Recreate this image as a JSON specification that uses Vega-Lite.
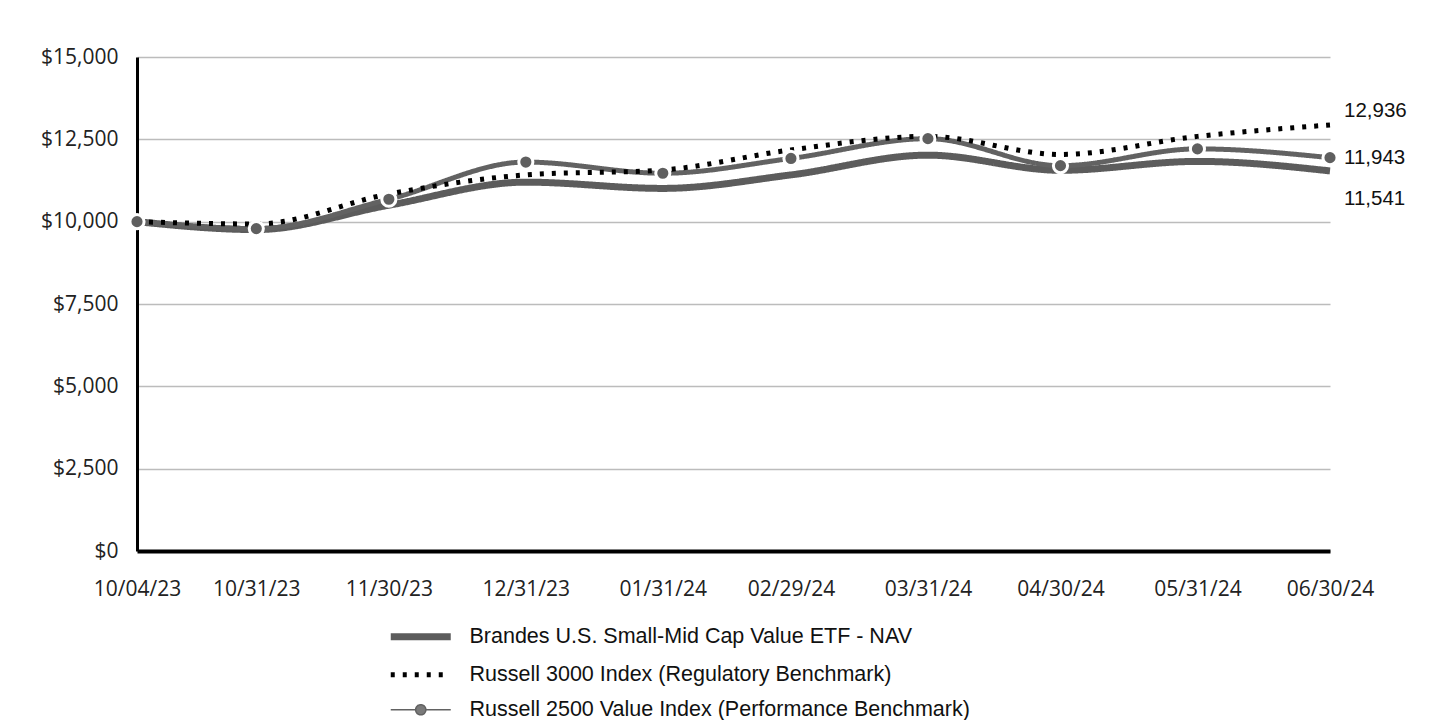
{
  "$schema": "https://vega.github.io/schema/vega-lite/v6.json",
  "width": 1193,
  "height": 494,
  "autosize": {"type": "none"},
  "padding": {"left": 137, "top": 57, "right": 110, "bottom": 169},
  "background": "white",
  "config": {
    "view": {"stroke": null},
    "axis": {"labelColor": "#222", "title": null}
  },
  "data": {
    "values": [
      {"date": "2023-10-04", "series": "Brandes U.S. Small-Mid Cap Value ETF - NAV", "value": 10000},
      {"date": "2023-10-31", "series": "Brandes U.S. Small-Mid Cap Value ETF - NAV", "value": 9760},
      {"date": "2023-11-30", "series": "Brandes U.S. Small-Mid Cap Value ETF - NAV", "value": 10500},
      {"date": "2023-12-31", "series": "Brandes U.S. Small-Mid Cap Value ETF - NAV", "value": 11200},
      {"date": "2024-01-31", "series": "Brandes U.S. Small-Mid Cap Value ETF - NAV", "value": 11010},
      {"date": "2024-02-29", "series": "Brandes U.S. Small-Mid Cap Value ETF - NAV", "value": 11420},
      {"date": "2024-03-31", "series": "Brandes U.S. Small-Mid Cap Value ETF - NAV", "value": 12020},
      {"date": "2024-04-30", "series": "Brandes U.S. Small-Mid Cap Value ETF - NAV", "value": 11560},
      {"date": "2024-05-31", "series": "Brandes U.S. Small-Mid Cap Value ETF - NAV", "value": 11830},
      {"date": "2024-06-30", "series": "Brandes U.S. Small-Mid Cap Value ETF - NAV", "value": 11541},
      {"date": "2023-10-04", "series": "Russell 3000 Index (Regulatory Benchmark)", "value": 10000},
      {"date": "2023-10-31", "series": "Russell 3000 Index (Regulatory Benchmark)", "value": 9930},
      {"date": "2023-11-30", "series": "Russell 3000 Index (Regulatory Benchmark)", "value": 10840},
      {"date": "2023-12-31", "series": "Russell 3000 Index (Regulatory Benchmark)", "value": 11420},
      {"date": "2024-01-31", "series": "Russell 3000 Index (Regulatory Benchmark)", "value": 11570},
      {"date": "2024-02-29", "series": "Russell 3000 Index (Regulatory Benchmark)", "value": 12180},
      {"date": "2024-03-31", "series": "Russell 3000 Index (Regulatory Benchmark)", "value": 12590},
      {"date": "2024-04-30", "series": "Russell 3000 Index (Regulatory Benchmark)", "value": 12040},
      {"date": "2024-05-31", "series": "Russell 3000 Index (Regulatory Benchmark)", "value": 12590},
      {"date": "2024-06-30", "series": "Russell 3000 Index (Regulatory Benchmark)", "value": 12936},
      {"date": "2023-10-04", "series": "Russell 2500 Value Index (Performance Benchmark)", "value": 10000},
      {"date": "2023-10-31", "series": "Russell 2500 Value Index (Performance Benchmark)", "value": 9790},
      {"date": "2023-11-30", "series": "Russell 2500 Value Index (Performance Benchmark)", "value": 10680},
      {"date": "2023-12-31", "series": "Russell 2500 Value Index (Performance Benchmark)", "value": 11810},
      {"date": "2024-01-31", "series": "Russell 2500 Value Index (Performance Benchmark)", "value": 11470},
      {"date": "2024-02-29", "series": "Russell 2500 Value Index (Performance Benchmark)", "value": 11920},
      {"date": "2024-03-31", "series": "Russell 2500 Value Index (Performance Benchmark)", "value": 12520},
      {"date": "2024-04-30", "series": "Russell 2500 Value Index (Performance Benchmark)", "value": 11700},
      {"date": "2024-05-31", "series": "Russell 2500 Value Index (Performance Benchmark)", "value": 12210},
      {"date": "2024-06-30", "series": "Russell 2500 Value Index (Performance Benchmark)", "value": 11943}
    ]
  },
  "encoding": {
    "x": {
      "field": "date", "type": "temporal",
      "scale": {"type": "utc", "domain": [{"year": 2023, "month": 10, "date": 4, "utc": true}, {"year": 2024, "month": 6, "date": 30, "utc": true}], "nice": false},
      "axis": {
        "values": [
          {"year": 2023, "month": 10, "date": 4, "utc": true},
          {"year": 2023, "month": 10, "date": 31, "utc": true},
          {"year": 2023, "month": 11, "date": 30, "utc": true},
          {"year": 2023, "month": 12, "date": 31, "utc": true},
          {"year": 2024, "month": 1, "date": 31, "utc": true},
          {"year": 2024, "month": 2, "date": 29, "utc": true},
          {"year": 2024, "month": 3, "date": 31, "utc": true},
          {"year": 2024, "month": 4, "date": 30, "utc": true},
          {"year": 2024, "month": 5, "date": 31, "utc": true},
          {"year": 2024, "month": 6, "date": 30, "utc": true}
        ],
        "labelExpr": "utcFormat(datum.value, '%m/%d/%y')",
        "grid": false, "ticks": false,
        "domainColor": "#000", "domainWidth": 4,
        "labelFont": "Open Sans", "labelFontSize": 21, "labelPadding": 27,
        "labelOverlap": false, "labelFlush": false
      }
    },
    "y": {
      "field": "value", "type": "quantitative",
      "scale": {"domain": [0, 15000], "nice": false, "zero": true},
      "axis": {
        "values": [0, 2500, 5000, 7500, 10000, 12500, 15000],
        "format": "$,.0f",
        "grid": true, "gridColor": "#bcbcbc", "gridWidth": 1.5,
        "ticks": false, "domainColor": "#000", "domainWidth": 3,
        "labelFont": "Open Sans", "labelFontSize": 21, "labelPadding": 19
      }
    }
  },
  "layer": [
    {
      "transform": [{"filter": "datum.series === 'Brandes U.S. Small-Mid Cap Value ETF - NAV'"}],
      "mark": {"type": "line", "interpolate": "monotone", "strokeWidth": 7},
      "encoding": {
        "color": {
          "field": "series", "type": "nominal",
          "scale": {
            "domain": ["Brandes U.S. Small-Mid Cap Value ETF - NAV", "Russell 3000 Index (Regulatory Benchmark)", "Russell 2500 Value Index (Performance Benchmark)"],
            "range": ["#5c5c5c", "#000000", "#626262"]
          },
          "legend": {
            "title": null, "orient": "none", "legendX": 273, "legendY": 569,
            "direction": "vertical", "symbolType": "stroke", "symbolSize": 3600,
            "labelFont": "Liberation Sans", "labelFontSize": 21.5, "labelColor": "#111",
            "labelLimit": 0, "labelOffset": 38, "rowPadding": 12,
            "encode": {
              "symbols": {
                "update": {
                  "strokeWidth": {"signal": "datum.value === 'Brandes U.S. Small-Mid Cap Value ETF - NAV' ? 7 : datum.value === 'Russell 3000 Index (Regulatory Benchmark)' ? 5 : 1.5"},
                  "shape": {"signal": "datum.value === 'Russell 2500 Value Index (Performance Benchmark)' ? 'M-1,0L-0.17,0M0.17,0L1,0M0.17,0A0.17,0.17,0,1,1,-0.17,0A0.17,0.17,0,1,1,0.17,0' : 'stroke'"},
                  "fill": {"signal": "datum.value === 'Russell 2500 Value Index (Performance Benchmark)' ? '#7a7a7a' : 'transparent'"}
                }
              }
            }
          }
        },
        "strokeDash": {
          "field": "series", "type": "nominal",
          "scale": {
            "domain": ["Brandes U.S. Small-Mid Cap Value ETF - NAV", "Russell 3000 Index (Regulatory Benchmark)", "Russell 2500 Value Index (Performance Benchmark)"],
            "range": [[1, 0], [4, 8], [1, 0]]
          },
          "legend": null
        }
      }
    },
    {
      "transform": [{"filter": "datum.series === 'Russell 2500 Value Index (Performance Benchmark)'"}],
      "mark": {"type": "line", "interpolate": "monotone", "strokeWidth": 5},
      "encoding": {
        "color": {"field": "series", "type": "nominal"},
        "strokeDash": {"field": "series", "type": "nominal", "legend": null}
      }
    },
    {
      "transform": [{"filter": "datum.series === 'Russell 3000 Index (Regulatory Benchmark)'"}],
      "mark": {"type": "line", "interpolate": "monotone", "strokeWidth": 5},
      "encoding": {
        "color": {"field": "series", "type": "nominal"},
        "strokeDash": {"field": "series", "type": "nominal", "legend": null}
      }
    },
    {
      "transform": [{"filter": "datum.series === 'Russell 2500 Value Index (Performance Benchmark)'"}],
      "mark": {"type": "point", "filled": true, "color": "#5f5f5f", "size": 200, "stroke": "white", "strokeWidth": 3, "opacity": 1}
    },
    {
      "transform": [{"filter": "datum.series === 'Russell 3000 Index (Regulatory Benchmark)' && utcFormat(toDate(datum.date), '%Y-%m-%d') === '2024-06-30'"}],
      "mark": {"type": "text", "align": "left", "baseline": "middle", "dx": 14, "dy": -14, "font": "Liberation Sans", "fontSize": 20.5, "color": "#111"},
      "encoding": {"text": {"field": "value", "type": "quantitative", "format": ",.0f"}}
    },
    {
      "transform": [{"filter": "datum.series === 'Russell 2500 Value Index (Performance Benchmark)' && utcFormat(toDate(datum.date), '%Y-%m-%d') === '2024-06-30'"}],
      "mark": {"type": "text", "align": "left", "baseline": "middle", "dx": 14, "dy": 0, "font": "Liberation Sans", "fontSize": 20.5, "color": "#111"},
      "encoding": {"text": {"field": "value", "type": "quantitative", "format": ",.0f"}}
    },
    {
      "transform": [{"filter": "datum.series === 'Brandes U.S. Small-Mid Cap Value ETF - NAV' && utcFormat(toDate(datum.date), '%Y-%m-%d') === '2024-06-30'"}],
      "mark": {"type": "text", "align": "left", "baseline": "middle", "dx": 14, "dy": 28, "font": "Liberation Sans", "fontSize": 20.5, "color": "#111"},
      "encoding": {"text": {"field": "value", "type": "quantitative", "format": ",.0f"}}
    }
  ]
}
